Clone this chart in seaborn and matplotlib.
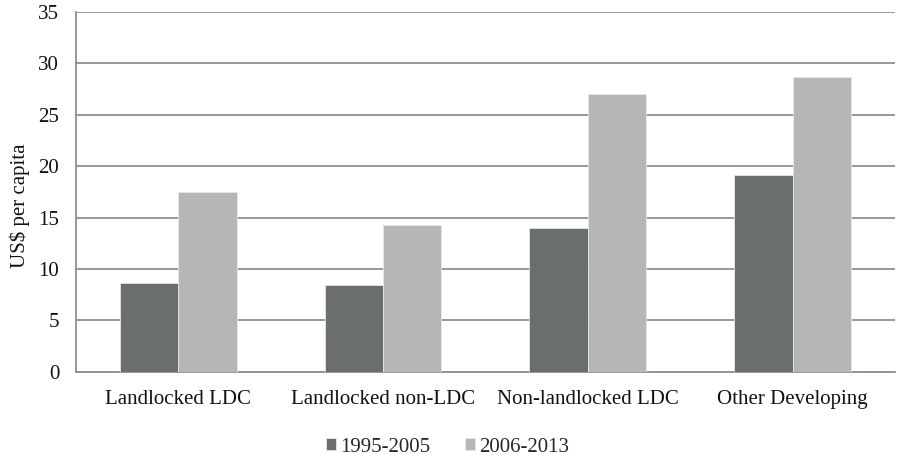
import matplotlib
matplotlib.use("Agg")
import matplotlib.pyplot as plt
import seaborn as sns
import pandas as pd

categories = ["Landlocked LDC", "Landlocked non-LDC", "Non-landlocked LDC", "Other Developing"]
series_names = ["1995-2005", "2006-2013"]
values_1995_2005 = [8.6, 8.4, 14.0, 19.1]
values_2006_2013 = [17.5, 14.3, 27.0, 28.7]
y_ticks = [0, 5, 10, 15, 20, 25, 30, 35]

df = pd.DataFrame({
    "category": categories * 2,
    "period": [series_names[0]] * 4 + [series_names[1]] * 4,
    "value": values_1995_2005 + values_2006_2013,
})

sns.set_theme(style="white")
plt.rcParams["font.family"] = ["Liberation Serif", "DejaVu Serif"]

fig = plt.figure(figsize=(8.98, 4.55), dpi=100)
ax = fig.add_axes([0.0846, 0.183, 0.912, 0.7905])

palette = {series_names[0]: "#6b6e6f", series_names[1]: "#b5b6b8"}
sns.barplot(data=df, x="category", y="value", hue="period", palette=palette,
            width=0.57, gap=0, saturation=1, ax=ax, zorder=3,
            edgecolor="#e6e6e6", linewidth=0.6)

fs = 15
ax.set_ylim(0, 35)
ax.set_yticks(y_ticks)
ax.set_yticklabels([str(t) for t in y_ticks])
ax.set_xlim(-0.5, 3.5)
ax.yaxis.grid(True, color="#8e9192", linewidth=1.3, zorder=0)
ax.set_axisbelow(True)
for s in ["top", "right"]:
    ax.spines[s].set_visible(False)
for s in ["left", "bottom"]:
    ax.spines[s].set_color("#8e9192")
    ax.spines[s].set_linewidth(1.3)
ax.tick_params(axis="both", length=0, labelsize=fs, colors="#111111")
ax.tick_params(axis="y", pad=12)
ax.tick_params(axis="x", pad=13)
ax.set_xlabel("")
ax.set_ylabel("US$ per capita", fontsize=fs, color="#111111")
ax.yaxis.set_label_coords(-0.056, 0.461)

handles, labels = ax.get_legend_handles_labels()
ax.legend(handles, labels, loc="lower center", bbox_to_anchor=(0.454, -0.288),
          ncol=2, frameon=False, fontsize=fs, handlelength=0.5, handleheight=0.5,
          handletextpad=0.2, columnspacing=1.65)

fig.savefig("out.png", dpi=100)
